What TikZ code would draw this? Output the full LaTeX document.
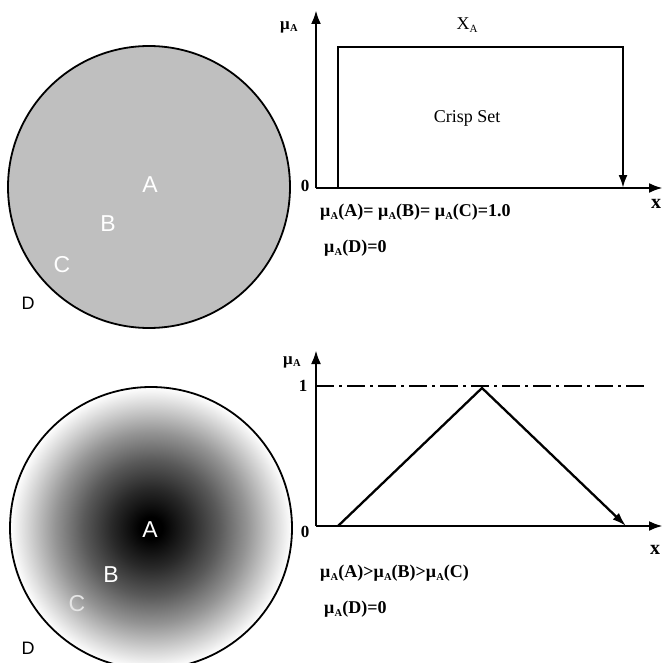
\documentclass[tikz,border=0pt]{standalone}
\usepackage{fontspec}
\setmainfont{Liberation Serif}
\newfontfamily\arialf{Liberation Sans}
\usetikzlibrary{arrows.meta}
\pgfdeclareradialshading{fuzzyball}{\pgfpoint{0bp}{0bp}}{%
  color(0bp)=(black);
  color(2bp)=(black);
  color(7bp)=(black!84);
  color(12bp)=(black!65);
  color(17bp)=(black!42);
  color(21.5bp)=(black!18);
  color(24bp)=(black!5);
  color(25bp)=(white);
  color(50bp)=(white)}
\newcommand\mA{μ\kern0.3pt\raisebox{-0.35ex}{\fontsize{10.5}{10.5}\selectfont A}}
\tikzset{
  axis/.style={line width=2.8pt, -{Latex[length=14pt,width=10pt]}},
  plotline/.style={line width=2.3pt},
  ptlabel/.style={font=\arialf\fontsize{23}{23}\selectfont, text=white, inner sep=0pt},
  dlabel/.style={font=\arialf\fontsize{18}{18}\selectfont, text=black, inner sep=0pt},
  eqtext/.style={font=\bfseries\fontsize{18}{18}\selectfont, anchor=west, inner sep=0pt},
  axlab/.style={font=\bfseries\fontsize{17}{17}\selectfont, inner sep=0pt},
}
\begin{document}
\begin{tikzpicture}[x=1pt,y=-1pt]
\useasboundingbox (0,0) rectangle (663,663);
% ---------- top: crisp set ----------
\draw[line width=1.8pt, fill=black!25] (149,187) circle (141);
\node[ptlabel] (ta) at (150,185) {A};
\node[ptlabel] (tb) at (108,224) {B};
\node[ptlabel] (tc) at (62,265) {C};
\node[dlabel] (td) at (28,303) {D};

\coordinate (o1) at (316,188);
\coordinate (y1) at (316,10);
\coordinate (x1) at (663,188);
\draw[axis] (o1) -- (y1);
\draw[axis] (o1) -- (x1);
\coordinate (r1) at (338,188);
\coordinate (r2) at (338,47);
\coordinate (r3) at (623,47);
\coordinate (r4) at (623,188);
\draw[plotline, -{Latex[length=13pt,width=9pt]}] (r1) -- (r2) -- (r3) -- (r4);
\node[axlab] (mu1) at (289,27) {\mA};
\node[axlab] (z1) at (305,186) {0};
\node[axlab, font=\bfseries\fontsize{20}{20}\selectfont] (xl1) at (656,204) {x};
\node[inner sep=0pt, font=\fontsize{18}{18}\selectfont] (xa) at (467,25) {X\raisebox{-0.35ex}{\fontsize{11}{11}\selectfont A}};
\node[inner sep=0pt, font=\fontsize{18}{18}\selectfont] (cs) at (467,118) {Crisp Set};
\node[eqtext] (eq1) at (320,212) {\mA(A)= \mA(B)= \mA(C)=1.0};
\node[eqtext] (eq2) at (324,248) {\mA(D)=0};

% ---------- bottom: fuzzy set ----------
\shade[shading=fuzzyball] (151,528) circle (141);
\draw[line width=1.8pt] (151,528) circle (141);
\node[ptlabel] (ba) at (150,530) {A};
\node[ptlabel] (bb) at (111,575) {B};
\node[ptlabel, text=white!90!black] (bc) at (77,604) {C};
\node[dlabel] (bd) at (28,648) {D};

\coordinate (o2) at (316,526);
\coordinate (y2) at (316,350);
\coordinate (x2) at (663,526);
\draw[axis] (o2) -- (y2);
\draw[axis] (o2) -- (x2);
\coordinate (d1) at (316,386);
\coordinate (d2) at (645,386);
\draw[line width=2.2pt, dash pattern=on 18pt off 5pt on 3pt off 5pt] (d1) -- (d2);
\coordinate (t1) at (338,526);
\coordinate (t2) at (482,388);
\coordinate (t3) at (626,526);
\draw[plotline, -{Latex[length=14pt,width=9pt]}] (t1) -- (t2) -- (t3);
\node[axlab] (mu2) at (292,362) {\mA};
\node[axlab] (one) at (303,386) {1};
\node[axlab] (z2) at (305,532) {0};
\node[axlab, font=\bfseries\fontsize{20}{20}\selectfont] (xl2) at (655,550) {x};
\node[eqtext] (eq3) at (320,573) {\mA(A)>\mA(B)>\mA(C)};
\node[eqtext] (eq4) at (324,609) {\mA(D)=0};
\end{tikzpicture}
\end{document}
